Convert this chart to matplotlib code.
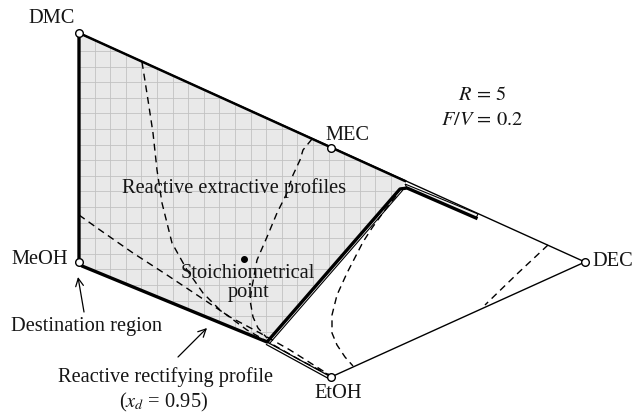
import numpy as np
import matplotlib
matplotlib.use("Agg")
import matplotlib.pyplot as plt
from matplotlib.patches import Polygon

plt.rcParams['mathtext.fontset'] = 'stix'
SERIF = ['Liberation Serif', 'DejaVu Serif']

# ---- data (diagram coordinates, y downward) ----
vertex_names = ["DMC", "MEC", "DEC", "EtOH", "MeOH"]
vertex_x = [79, 331, 585, 331, 79]
vertex_y = [33, 148, 262, 377, 262]

# shaded reachable region of the reactive extractive section
region_x = [79, 405, 402, 267, 82, 79]
region_y = [33, 181, 188, 342, 265, 262]

# reactive extractive profile boundary (thick)
bound_x = [79, 79, 82, 267, 400, 407, 476]
bound_y = [33, 262, 266, 342, 189, 188, 218]
band_x = [405, 478]
band_y = [184, 214]

# rectifying profile (double line) to EtOH
rect_x = [267, 331]
rect_y = [342, 377]

# dashed profiles
dA_x = [142, 148, 153, 157, 162, 172, 187, 203, 220, 247, 270, 300, 331]
dA_y = [62, 100, 133, 170, 203, 243, 270, 293, 310, 330, 343, 360, 376]
dB_x = [79, 100, 133, 167, 200, 230, 260, 290, 331]
dB_y = [215, 230, 253, 275, 297, 317, 333, 350, 376]
dC_x = [312, 303, 300, 293, 287, 277, 267, 257, 252, 250, 253, 258, 267]
dC_y = [139, 150, 160, 175, 193, 213, 237, 260, 287, 300, 317, 328, 338]
dD_x = [396, 385, 372, 363, 347, 337, 332, 332, 337, 345, 353]
dD_y = [196, 210, 228, 242, 273, 295, 315, 333, 345, 357, 366]
dE_x = [548, 517, 485]
dE_y = [245, 274, 305]

stoich_x, stoich_y = 244, 259

fig = plt.figure(figsize=(6.33, 4.12), dpi=100)
ax = fig.add_axes([0, 0, 1, 1])
ax.set_xlim(0, 633)
ax.set_ylim(412, 0)
ax.axis('off')

# shaded region with grid
poly = Polygon(np.column_stack([region_x, region_y]), closed=True,
               facecolor='#e9e9e9', edgecolor='none', zorder=1)
ax.add_patch(poly)
for gx in np.arange(79, 420, 15.6):
    ln, = ax.plot([gx, gx], [0, 412], color='#c2c2c2', lw=0.6, zorder=1.5)
    ln.set_clip_path(poly)
for gy in np.arange(35.4, 360, 15.6):
    ln, = ax.plot([0, 633], [gy, gy], color='#c2c2c2', lw=0.6, zorder=1.5)
    ln.set_clip_path(poly)

# edges
ax.plot([vertex_x[0], region_x[1]], [vertex_y[0], region_y[1]], color='black', lw=1.8, zorder=3)
ax.plot([vertex_x[0], vertex_x[2]], [vertex_y[0], vertex_y[2]], color='black', lw=1.0, zorder=3)
ax.plot([vertex_x[2], vertex_x[3]], [vertex_y[2], vertex_y[3]], color='black', lw=1.0, zorder=3)

# band along the DMC-DEC edge
band = Polygon([[band_x[0], band_y[0]], [band_x[1], band_y[1]],
                [bound_x[-1], bound_y[-1]], [bound_x[-2], bound_y[-2]]],
               closed=True, facecolor='#f2f2f2', edgecolor='black', lw=0.8, zorder=3)
ax.add_patch(band)

# thick boundary
ax.plot(bound_x, bound_y, color='black', lw=2.4, zorder=4, solid_joinstyle='round')
ax.plot(np.array(bound_x[3:5]) + 2.5, np.array(bound_y[3:5]) + 1.5, color='black', lw=0.8, zorder=4)

# rectifying double line
ax.plot(rect_x, rect_y, color='black', lw=0.9, zorder=4)
ax.plot(np.array(rect_x) - 0.5, np.array(rect_y) + 2.6, color='black', lw=0.9, zorder=4)

# dashed profiles
for xs, ys in [(dA_x, dA_y), (dB_x, dB_y), (dC_x, dC_y), (dD_x, dD_y), (dE_x, dE_y)]:
    ax.plot(xs, ys, color='black', lw=1.0, ls=(0, (5, 3.5)), zorder=5)

# vertices
ax.plot(vertex_x, vertex_y, 'o', ms=5.5, mfc='white', mec='black', mew=1.0, zorder=6, ls='none')
ax.plot(stoich_x, stoich_y, 'o', ms=4, color='black', zorder=6)

fs = 14.7
txt = dict(family=SERIF, fontsize=fs, color='#151515', zorder=7)
ax.text(52, 18, "DMC", ha='center', va='center', **txt)
ax.text(347, 135, "MEC", ha='center', va='center', **txt)
ax.text(592, 262, "DEC", ha='left', va='center', **txt)
ax.text(68, 260, "MeOH", ha='right', va='center', **txt)
ax.text(338, 393, "EtOH", ha='center', va='center', **txt)
ax.text(482, 95, r"$R\,=\,5$", ha='center', va='center', **txt)
ax.text(482, 120, r"$F/V\,=\,0.2$", ha='center', va='center', **txt)
ax.text(234, 188, "Reactive extractive profiles", ha='center', va='center', **txt)
ax.text(248, 273, "Stoichiometrical", ha='center', va='center', **txt)
ax.text(249, 293, "point", ha='center', va='center', **txt)
ax.text(87, 326, "Destination region", ha='center', va='center', **txt)
ax.text(165, 377, "Reactive rectifying profile", ha='center', va='center', **txt)
ax.text(164, 402, r"($x_d$ = 0.95)", ha='center', va='center', **txt)

arrow = dict(arrowstyle='->', lw=0.9, color='black', mutation_scale=14, shrinkA=0, shrinkB=0)
ax.annotate("", xy=(78, 277), xytext=(84, 312), arrowprops=arrow, zorder=7)
ax.annotate("", xy=(207, 328), xytext=(178, 357), arrowprops=arrow, zorder=7)

fig.savefig("out.png", dpi=100)
